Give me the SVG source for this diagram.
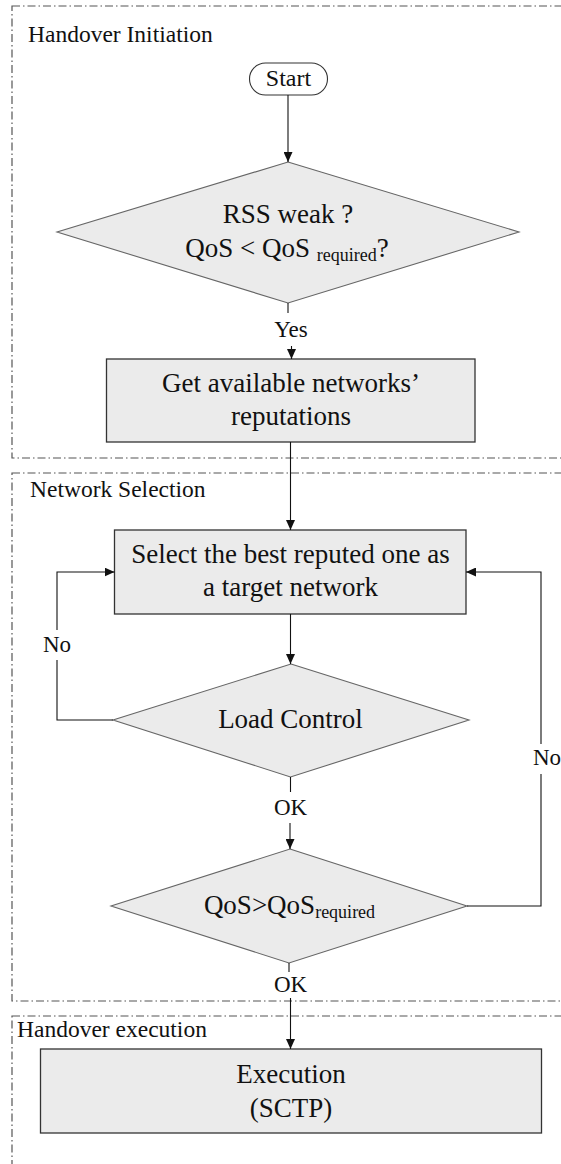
<svg xmlns="http://www.w3.org/2000/svg" width="561" height="1164" viewBox="0 0 561 1164">
<style>
.frame{fill:none;stroke:#555;stroke-width:1.2;stroke-dasharray:8 3 1.5 3}
.title{font-family:"Liberation Serif","Times New Roman",serif;font-size:23.5px;fill:#111}
.node{fill:#ebebeb;stroke:#333;stroke-width:1.3}
.dia{fill:#ebebeb;stroke:#666;stroke-width:1.1}
.t{font-family:"Liberation Serif","Times New Roman",serif;font-size:27px;fill:#111;text-anchor:middle}
.lbl{font-family:"Liberation Serif","Times New Roman",serif;font-size:23px;fill:#111;text-anchor:middle}
.c{fill:none;stroke:#111;stroke-width:1.1}
.a{marker-end:url(#arr)}
</style>
<defs>
<marker id="arr" markerUnits="userSpaceOnUse" markerWidth="10" markerHeight="9" refX="10" refY="4.5" orient="auto">
<path d="M0,0 L10,4.5 L0,9 z" fill="#111"/>
</marker>
</defs>
<rect width="561" height="1164" fill="#fff"/>
<g id="section-initiation">
<rect class="frame" x="12" y="6" width="620" height="452"/>
<text class="title" x="28" y="42">Handover Initiation</text>
</g>
<g id="section-selection">
<rect class="frame" x="12" y="473" width="620" height="528"/>
<text class="title" x="30" y="497">Network Selection</text>
</g>
<g id="section-execution">
<rect class="frame" x="12" y="1016" width="620" height="200"/>
<text class="title" x="17" y="1037">Handover execution</text>
</g>
<g id="start">
<rect x="249.5" y="63" width="78" height="32" rx="16" fill="#fff" stroke="#333" stroke-width="1.1"/>
<text class="t" x="288.5" y="86" style="font-size:24px">Start</text>
</g>
<g id="check-rss">
<polygon class="dia" points="288,162 519,232 288,303 57,232"/>
<text class="t" x="288" y="223">RSS weak ?</text>
<text class="t" x="287" y="257">QoS &lt; QoS <tspan style="font-size:18px" dy="4">required</tspan><tspan dy="-4">?</tspan></text>
</g>
<g id="get-reputations">
<rect class="node" x="106.5" y="359" width="368.5" height="83"/>
<text class="t" x="291" y="392">Get available networks’</text>
<text class="t" x="291" y="425">reputations</text>
</g>
<g id="select-best">
<rect class="node" x="114.5" y="530" width="351.5" height="84"/>
<text class="t" x="290.5" y="563">Select the best reputed one as</text>
<text class="t" x="290.5" y="596">a target network</text>
</g>
<g id="load-control">
<polygon class="dia" points="291,664 469,720 290.5,777 113,720"/>
<text class="t" x="290.5" y="728">Load Control</text>
</g>
<g id="qos-check">
<polygon class="dia" points="290,849 467,906 289,963 111,906"/>
<text class="t" x="289.5" y="914">QoS&gt;QoS<tspan style="font-size:18px" dy="4">required</tspan></text>
</g>
<g id="execution">
<rect class="node" x="40.5" y="1049" width="501" height="84"/>
<text class="t" x="291" y="1083">Execution</text>
<text class="t" x="291" y="1117">(SCTP)</text>
</g>
<g id="connectors">
<line class="c a" x1="288" y1="95" x2="288" y2="162"/>
<line class="c" x1="288" y1="303" x2="288" y2="313"/>
<text class="lbl" x="291" y="337">Yes</text>
<line class="c a" x1="291.5" y1="346" x2="291.5" y2="359"/>
<line class="c a" x1="290.5" y1="442" x2="290.5" y2="530"/>
<line class="c a" x1="290.5" y1="614" x2="290.5" y2="664"/>
<line class="c" x1="290.5" y1="777" x2="290.5" y2="792"/>
<text class="lbl" x="290.5" y="815">OK</text>
<line class="c a" x1="290" y1="823" x2="290" y2="849"/>
<polyline class="c" points="113,720 57,720 57,660"/>
<text class="lbl" x="57" y="652">No</text>
<polyline class="c a" points="57,630 57,572 114.5,572"/>
<polyline class="c" points="467,906 541,906 541,774"/>
<text class="lbl" x="547" y="765">No</text>
<polyline class="c a" points="541,744 541,572 466,572"/>
<line class="c" x1="289" y1="963" x2="289" y2="972"/>
<text class="lbl" x="290.5" y="992">OK</text>
<line class="c a" x1="290.5" y1="998" x2="290.5" y2="1049"/>
</g>
</svg>
